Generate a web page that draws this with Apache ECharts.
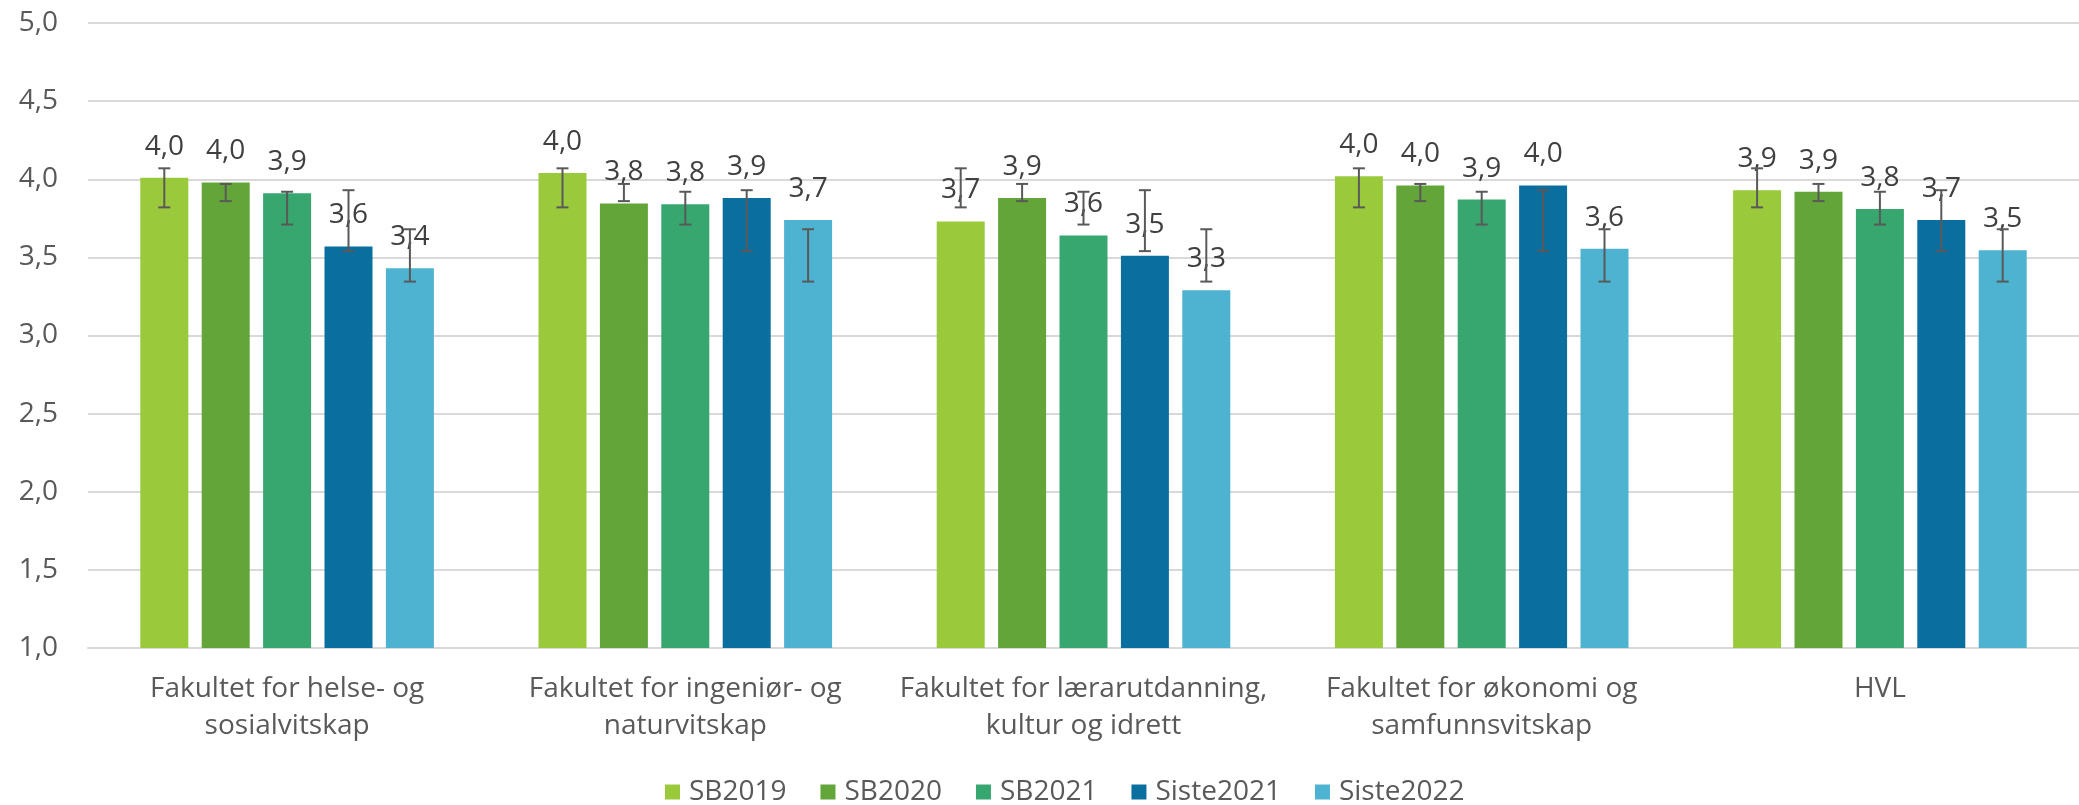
<!DOCTYPE html>
<html>
<head>
<meta charset="utf-8">
<script src="https://cdn.jsdelivr.net/npm/echarts@6/dist/echarts.min.js"></script>
<style>html,body{margin:0;padding:0;background:#fff;}#c{width:2079px;height:805px;}</style>
</head>
<body>
<div id="c"></div>
<script>
var categories = [
  "Fakultet for helse- og\nsosialvitskap",
  "Fakultet for ingeniør- og\nnaturvitskap",
  "Fakultet for lærarutdanning,\nkultur og idrett",
  "Fakultet for økonomi og\nsamfunnsvitskap",
  "HVL"
];
var seriesNames = ["SB2019", "SB2020", "SB2021", "Siste2021", "Siste2022"];
var SB2019 = [4.01, 4.04, 3.73, 4.02, 3.93];
var SB2020 = [3.98, 3.845, 3.88, 3.96, 3.92];
var SB2021 = [3.91, 3.84, 3.64, 3.87, 3.81];
var Siste2021 = [3.57, 3.88, 3.51, 3.96, 3.74];
var Siste2022 = [3.43, 3.74, 3.29, 3.555, 3.545];
// error bar ends (low, high) per series (same in every group)
var errLow = [3.82, 3.86, 3.71, 3.54, 3.345];
var errHigh = [4.07, 3.97, 3.92, 3.93, 3.68];
var yTicks = [1.0, 1.5, 2.0, 2.5, 3.0, 3.5, 4.0, 4.5, 5.0];

var values = [SB2019, SB2020, SB2021, Siste2021, Siste2022];
var colors = ["#9ACA3C", "#63A538", "#37A76F", "#0A6E9F", "#4EB3D1"];
var FONT = "Open Sans";
var FS = 28;
var BAR_W = 48, BAR_GAP = 13.4;

function fmt(v) { return (Math.round(v * 10) / 10).toFixed(1).replace('.', ','); }

var series = [];
seriesNames.forEach(function (name, i) {
  series.push({
    name: name,
    type: 'bar',
    data: values[i],
    barWidth: BAR_W,
    barGap: (BAR_GAP / BAR_W * 100) + '%',
    itemStyle: { color: colors[i] },
    label: {
      show: true,
      position: 'top',
      distance: 17,
      color: '#404040',
      fontFamily: FONT,
      fontSize: FS,
      formatter: function (p) { return fmt(p.value); }
    },
    z: 2
  });
});
seriesNames.forEach(function (name, i) {
  var d = categories.map(function (c, k) { return [k, errLow[i], errHigh[i]]; });
  series.push({
    type: 'custom',
    name: name + '_err',
    data: d,
    z: 5,
    silent: true,
    tooltip: { show: false },
    renderItem: function (params, api) {
      var k = api.value(0);
      var lo = api.coord([k, api.value(1)]);
      var hi = api.coord([k, api.value(2)]);
      var off = (i - 2) * (BAR_W + BAR_GAP);
      var x = lo[0] + off;
      var cap = 6;
      var st = { stroke: '#595959', lineWidth: 2 };
      return {
        type: 'group',
        children: [
          { type: 'line', shape: { x1: x, y1: lo[1], x2: x, y2: hi[1] }, style: st },
          { type: 'line', shape: { x1: x - cap, y1: lo[1], x2: x + cap, y2: lo[1] }, style: st },
          { type: 'line', shape: { x1: x - cap, y1: hi[1], x2: x + cap, y2: hi[1] }, style: st }
        ]
      };
    },
    encode: { x: 0, y: [1, 2] }
  });
});

var chart = echarts.init(document.getElementById('c'), null, { renderer: 'canvas' });
chart.setOption({
  animation: false,
  backgroundColor: '#ffffff',
  textStyle: { fontFamily: FONT },
  grid: { left: 88, right: 0, top: 23, bottom: 157, containLabel: false },
  legend: {
    data: seriesNames,
    left: 660,
    top: 773,
    itemWidth: 15,
    itemHeight: 15,
    itemGap: 34,
    icon: 'rect',
    textStyle: { color: '#595959', fontSize: FS, fontFamily: FONT, padding: [0, 0, 0, 4] }
  },
  xAxis: {
    type: 'category',
    data: categories,
    axisLine: { show: true, lineStyle: { color: '#D9D9D9', width: 2 } },
    axisTick: { show: false },
    axisLabel: {
      color: '#595959',
      fontSize: FS,
      fontFamily: FONT,
      lineHeight: 37,
      margin: 23,
      interval: 0
    }
  },
  yAxis: {
    type: 'value',
    min: 1.0,
    max: 5.0,
    interval: 0.5,
    axisLine: { show: false },
    axisTick: { show: false },
    splitLine: { lineStyle: { color: '#D9D9D9', width: 2 } },
    axisLabel: {
      color: '#595959',
      fontSize: FS,
      fontFamily: FONT,
      margin: 30,
      formatter: function (v) { return yTicks.indexOf(v) >= 0 ? fmt(v) : ''; }
    }
  },
  series: series
});
</script>
</body>
</html>
